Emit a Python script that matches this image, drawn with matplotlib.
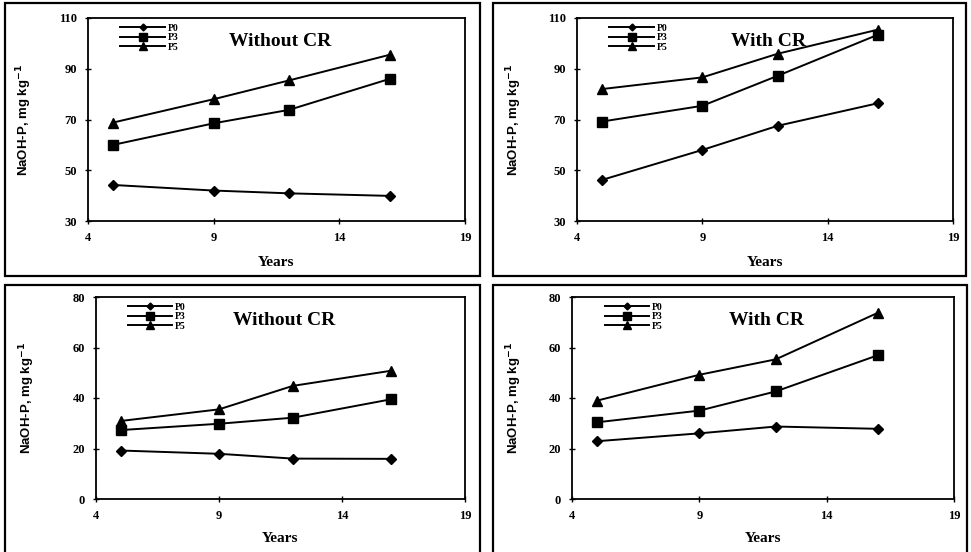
import matplotlib
matplotlib.use("Agg")
import matplotlib.pyplot as plt
from matplotlib.patches import Rectangle

# NaOH-P (mg kg-1) over years, with and without crop residue (CR)
years = [5, 9, 12, 16]
series_names = ["P0", "P3", "P5"]

top_without = {"P0": [44.2, 42.0, 40.9, 39.9],
               "P3": [60.0, 68.5, 73.8, 86.0],
               "P5": [68.8, 78.0, 85.4, 95.5]}
top_with = {"P0": [46.2, 58.0, 67.5, 76.4],
            "P3": [69.2, 75.4, 87.2, 103.4],
            "P5": [82.0, 86.6, 95.9, 105.4]}
bottom_without = {"P0": [19.2, 17.9, 16.0, 15.9],
                  "P3": [27.3, 29.8, 32.2, 39.5],
                  "P5": [30.9, 35.5, 44.8, 50.8]}
bottom_with = {"P0": [22.9, 26.0, 28.7, 27.8],
               "P3": [30.4, 35.0, 42.6, 56.9],
               "P5": [39.0, 49.2, 55.3, 73.7]}

x_ticks = [4, 9, 14, 19]
top_yticks = [30, 50, 70, 90, 110]
bottom_yticks = [0, 20, 40, 60, 80]

markers = {"P0": "D", "P3": "s", "P5": "^"}
msizes = {"P0": 5, "P3": 7.5, "P5": 7.5}

plt.rcParams["font.family"] = ["Liberation Serif", "DejaVu Serif"]
plt.rcParams["font.weight"] = "bold"

W, H = 971, 552
fig = plt.figure(figsize=(W / 100, H / 100), dpi=100)


def px_axes(l, t, r, b):
    return fig.add_axes([l / W, 1 - b / H, (r - l) / W, (b - t) / H])


def px_box(l, t, r, b):
    fig.patches.append(Rectangle((l / W, 1 - b / H), (r - l) / W, (b - t) / H,
                                 transform=fig.transFigure, fill=False,
                                 edgecolor="black", linewidth=1.6))


# axes box (px), panel frame (px), data, y ticks, title, ylabel x, xlabel y
panels = [
    ((88, 18, 465, 221), (5, 3, 480, 276), top_without, top_yticks, "Without CR", -0.143, -0.172),
    ((577, 18, 953, 221), (493, 3, 966, 276), top_with, top_yticks, "With CR", -0.141, -0.172),
    ((96, 297, 465, 499), (5, 285, 480, 560), bottom_without, bottom_yticks, "Without CR", -0.16, -0.164),
    ((572, 297, 954, 499), (493, 285, 967, 560), bottom_with, bottom_yticks, "With CR", -0.126, -0.164),
]

for ax_px, box_px, data, yticks, title, ylab_x, xlab_y in panels:
    px_box(*box_px)
    ax = px_axes(*ax_px)
    for name in series_names:
        ax.plot(years, data[name], color="black", linewidth=1.4,
                marker=markers[name], markersize=msizes[name], label=name)
    ax.set_xlim(x_ticks[0], x_ticks[-1])
    ax.set_ylim(yticks[0], yticks[-1])
    ax.set_xticks(x_ticks)
    ax.set_yticks(yticks)
    ax.tick_params(labelsize=9, length=4, width=1, direction="inout", pad=6)
    for lab in ax.get_xticklabels() + ax.get_yticklabels():
        lab.set_fontweight("bold")
    for sp in ax.spines.values():
        sp.set_linewidth(1.3)
    ax.set_xlabel("Years", fontsize=11, fontweight="bold")
    ax.xaxis.set_label_coords(0.5, xlab_y)
    ax.set_ylabel("NaOH-P, mg kg$^{\\mathbf{-1}}$", fontsize=9.5, fontweight="bold",
                  family=["Liberation Sans", "DejaVu Sans"])
    ax.yaxis.set_label_coords(ylab_x, 0.5)
    ax.text(0.51, 0.885, title, transform=ax.transAxes, fontsize=14,
            fontweight="bold", ha="center", va="center")
    ax.legend(loc="upper left", frameon=False, fontsize=7, handlelength=4.6,
              labelspacing=0.05, borderaxespad=0.2, handletextpad=0.3,
              markerscale=0.7, bbox_to_anchor=(0.07, 1.0))

fig.savefig("out.png", dpi=100)
